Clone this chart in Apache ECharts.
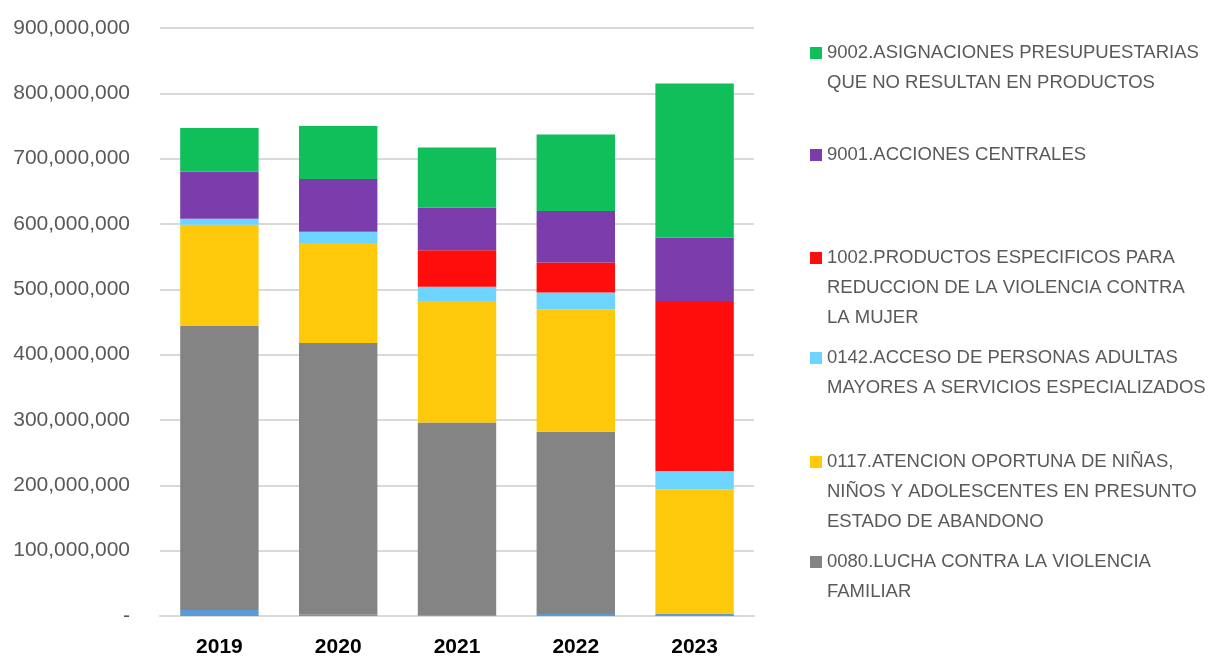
<!DOCTYPE html>
<html>
<head>
<meta charset="utf-8">
<script src="https://cdn.jsdelivr.net/npm/echarts@6/dist/echarts.min.js"></script>
<style>
html, body { margin: 0; padding: 0; background: #fff; }
#main { width: 1211px; height: 659px; }
</style>
</head>
<body>
<div id="main"></div>
<script>
var years = ['2019', '2020', '2021', '2022', '2023'];

// series values (soles)
var base     = [9000000, 2000000, 1000000, 3000000, 3000000];
var s0080    = [435000000, 416000000, 295000000, 279000000, 0];
var s0117    = [155000000, 153000000, 186000000, 187000000, 191000000];
var s0142    = [9000000, 17000000, 22000000, 26000000, 28000000];
var s1002    = [0, 0, 56000000, 46000000, 260000000];
var s9001    = [72000000, 81000000, 65000000, 79000000, 97000000];
var s9002    = [67000000, 81000000, 92000000, 117000000, 236000000];

var names = [
    '0080.LUCHA CONTRA LA VIOLENCIA FAMILIAR',
    '0117.ATENCION OPORTUNA DE NIÑAS, NIÑOS Y ADOLESCENTES EN PRESUNTO ESTADO DE ABANDONO',
    '0142.ACCESO DE PERSONAS ADULTAS MAYORES A SERVICIOS ESPECIALIZADOS',
    '1002.PRODUCTOS ESPECIFICOS PARA REDUCCION DE LA VIOLENCIA CONTRA LA MUJER',
    '9001.ACCIONES CENTRALES',
    '9002.ASIGNACIONES PRESUPUESTARIAS QUE NO RESULTAN EN PRODUCTOS'
];
var wrapped = {};
wrapped[names[0]] = '0080.LUCHA CONTRA LA VIOLENCIA\nFAMILIAR';
wrapped[names[1]] = '0117.ATENCION OPORTUNA DE NIÑAS,\nNIÑOS Y ADOLESCENTES EN PRESUNTO\nESTADO DE ABANDONO';
wrapped[names[2]] = '0142.ACCESO DE PERSONAS ADULTAS\nMAYORES A SERVICIOS ESPECIALIZADOS';
wrapped[names[3]] = '1002.PRODUCTOS ESPECIFICOS PARA\nREDUCCION DE LA VIOLENCIA CONTRA\nLA MUJER';
wrapped[names[4]] = '9001.ACCIONES CENTRALES';
wrapped[names[5]] = '9002.ASIGNACIONES PRESUPUESTARIAS\nQUE NO RESULTAN EN PRODUCTOS';

var colors = ['#848484', '#FFC90B', '#6DD4FF', '#FF0D0D', '#7B3DAB', '#10BE5A'];
var values = [s0080, s0117, s0142, s1002, s9001, s9002];

var LH = 30;
var legendTops = [517, 387, 313, 183, 140, 8];

var dom = document.getElementById('main');
var myChart = echarts.init(dom);

function fmt(v) {
    if (v === 0) return '-';
    return v.toString().replace(/\B(?=(\d{3})+(?!\d))/g, ',');
}

// blank lines above the text keep the marker level with the first line
function legendText(n) {
    var txt = wrapped[n];
    var k = txt.split('\n').length - 1;
    var pad = '';
    for (var i = 0; i < k; i++) pad += ' \n';
    return pad + txt;
}

var series = [{
    name: 'otros',
    type: 'bar',
    stack: 'total',
    data: base,
    barCategoryGap: '34%',
    itemStyle: { color: '#5B9BD5' }
}];
for (var i = 0; i < names.length; i++) {
    series.push({
        name: names[i],
        type: 'bar',
        stack: 'total',
        data: values[i],
        itemStyle: { color: colors[i] }
    });
}

var legends = [];
for (var j = 0; j < names.length; j++) {
    legends.push({
        data: [names[j]],
        left: 810,
        top: legendTops[j],
        orient: 'vertical',
        icon: 'rect',
        itemWidth: 12,
        itemHeight: 12,
        itemGap: 0,
        padding: 0,
        selectedMode: false,
        formatter: legendText,
        textStyle: {
            color: '#595959',
            fontFamily: 'Liberation Sans',
            fontSize: 18.5,
            lineHeight: LH
        }
    });
}

var option = {
    backgroundColor: '#ffffff',
    animation: false,
    grid: { left: 160, right: 457, top: 28, bottom: 43 },
    legend: legends,
    xAxis: {
        type: 'category',
        data: years,
        axisLine: { lineStyle: { color: '#D9D9D9', width: 2 } },
        axisTick: { show: false },
        axisLabel: {
            color: '#000000',
            fontFamily: 'Liberation Sans',
            fontWeight: 'bold',
            fontSize: 21,
            margin: 21
        }
    },
    yAxis: {
        type: 'value',
        min: 0,
        max: 900000000,
        interval: 100000000,
        axisLine: { show: false },
        axisTick: { show: false },
        splitLine: { lineStyle: { color: '#D9D9D9', width: 2 } },
        axisLabel: {
            color: '#595959',
            fontFamily: 'Liberation Sans',
            fontSize: 21,
            margin: 30,
            formatter: function (v) { return fmt(v); }
        }
    },
    series: series
};

if (option && typeof option === "object") {
    myChart.setOption(option, true);
}
</script>
</body>
</html>
